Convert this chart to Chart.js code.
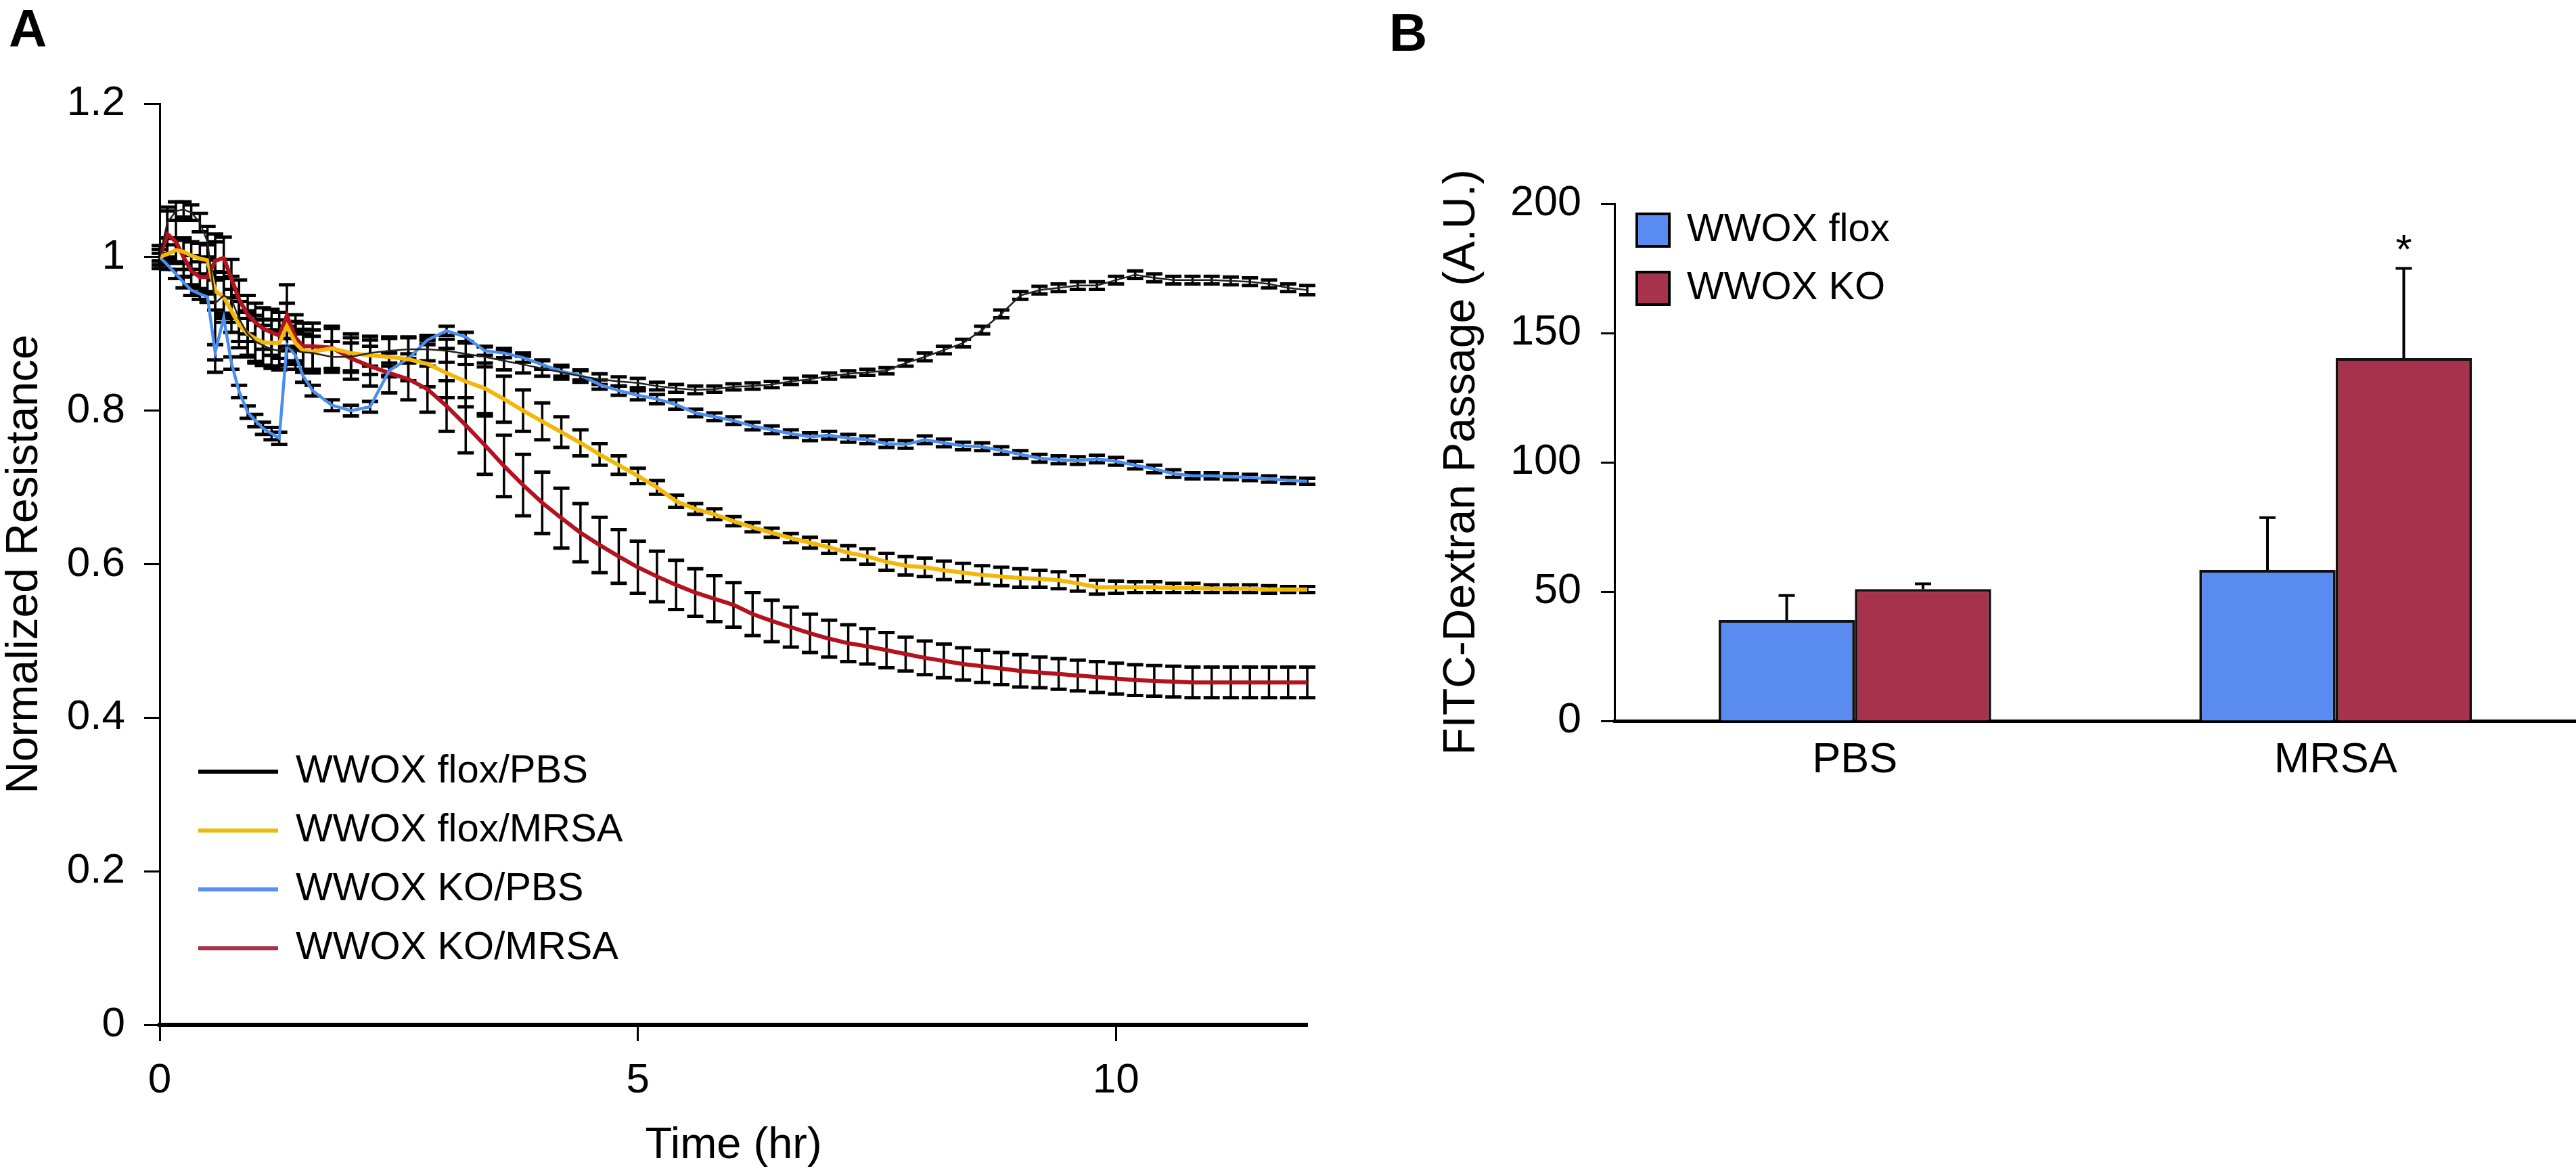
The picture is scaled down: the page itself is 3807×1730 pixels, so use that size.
<!DOCTYPE html>
<html>
<head>
<meta charset="utf-8">
<script src="https://cdn.jsdelivr.net/npm/chart.js@4.4.1/dist/chart.umd.min.js"></script>
<style>
  html, body { margin: 0; padding: 0; background: #fff; }
  body { width: 3807px; height: 1730px; position: relative; overflow: hidden; }
  .panel { position: absolute; top: 0; height: 1730px; }
  #panelA { left: 0; width: 1990px; }
  #panelB { left: 1990px; width: 1817px; }
  .tag { position: absolute; font: bold 78px "Liberation Sans", Arial, sans-serif; line-height: 78px; color: #000; }
</style>
</head>
<body>
<div class="tag" style="left:13px; top:3px;">A</div>
<div class="tag" style="left:2053px; top:9px;">B</div>
<div class="panel" id="panelA"><canvas id="canvasA"></canvas></div>
<div class="panel" id="panelB"><canvas id="canvasB"></canvas></div>
<script>
// ---- panel A: normalized resistance over time ----
const timeHr = [0, 0.08, 0.17, 0.25, 0.33, 0.42, 0.5, 0.58, 0.67, 0.75, 0.83, 0.92, 1.0, 1.08, 1.17, 1.25, 1.33, 1.42, 1.5,
  1.6, 1.8, 2.0, 2.2, 2.4, 2.6, 2.8, 3.0, 3.2, 3.4,
  3.6, 3.8, 4.0, 4.2, 4.4, 4.6, 4.8, 5.0, 5.2, 5.4,
  5.6, 5.8, 6.0, 6.2, 6.4, 6.6, 6.8, 7.0, 7.2, 7.4,
  7.6, 7.8, 8.0, 8.2, 8.4, 8.6, 8.8, 9.0, 9.2, 9.4,
  9.6, 9.8, 10.0, 10.2, 10.4, 10.6, 10.8, 11.0, 11.2, 11.4,
  11.6, 11.8, 12.0];

const floxPbsMean = [1.0, 1.045, 1.06, 1.062, 1.058, 1.045, 1.02, 0.94, 0.95, 0.945, 0.92, 0.9, 0.89, 0.885, 0.88, 0.878, 0.885, 0.878, 0.876,
  0.875, 0.87, 0.87, 0.875, 0.878, 0.88, 0.88, 0.878, 0.874, 0.87,
  0.865, 0.86, 0.855, 0.85, 0.845, 0.841, 0.838, 0.836, 0.832, 0.829,
  0.827, 0.828, 0.831, 0.832, 0.834, 0.838, 0.841, 0.845, 0.848, 0.85,
  0.852, 0.862, 0.87, 0.879, 0.888, 0.905, 0.926, 0.95, 0.957, 0.96,
  0.963, 0.963, 0.97, 0.977, 0.973, 0.97, 0.97, 0.97, 0.969, 0.968,
  0.965, 0.96, 0.957];
const floxPbsErr = [0.01, 0.02, 0.012, 0.01, 0.01, 0.012, 0.02, 0.09, 0.03, 0.03, 0.03, 0.028, 0.028, 0.026, 0.025, 0.025, 0.025, 0.024, 0.024,
  0.022, 0.02, 0.018, 0.017, 0.016, 0.016, 0.015, 0.015, 0.014, 0.013,
  0.012, 0.011, 0.01, 0.009, 0.008, 0.007, 0.006, 0.006, 0.005, 0.005,
  0.005, 0.004, 0.004, 0.004, 0.004, 0.004, 0.004, 0.004, 0.004, 0.004,
  0.004, 0.004, 0.005, 0.005, 0.005, 0.005, 0.005, 0.005, 0.005, 0.005,
  0.005, 0.005, 0.005, 0.005, 0.005, 0.005, 0.005, 0.005, 0.005, 0.005,
  0.005, 0.005, 0.006];

const floxMrsaMean = [1.0, 1.004, 1.009, 1.007, 1.002, 0.998, 0.996, 0.956, 0.948, 0.93, 0.912, 0.9, 0.894, 0.889, 0.888, 0.888, 0.91, 0.888, 0.878,
  0.877, 0.881, 0.875, 0.872, 0.87, 0.867, 0.861, 0.849, 0.838, 0.829,
  0.815, 0.8, 0.786, 0.772, 0.758, 0.743, 0.729, 0.715, 0.7, 0.682,
  0.672, 0.665, 0.656, 0.648, 0.641, 0.634, 0.628, 0.622, 0.615, 0.61,
  0.603, 0.598, 0.596, 0.592, 0.589, 0.586, 0.584, 0.582, 0.581, 0.579,
  0.575, 0.57, 0.57, 0.57, 0.57, 0.569, 0.569, 0.568, 0.568, 0.568,
  0.567, 0.567, 0.567];
const floxMrsaErr = [0.01, 0.012, 0.015, 0.015, 0.018, 0.02, 0.02, 0.025, 0.025, 0.028, 0.03, 0.03, 0.03, 0.03, 0.03, 0.03, 0.03, 0.028, 0.028,
  0.028, 0.026, 0.025, 0.025, 0.026, 0.028, 0.03, 0.032, 0.033, 0.033,
  0.03, 0.027, 0.024, 0.02, 0.017, 0.014, 0.012, 0.01, 0.009, 0.008,
  0.007, 0.007, 0.006, 0.006, 0.006, 0.006, 0.007, 0.008, 0.009, 0.01,
  0.011, 0.012, 0.012, 0.012, 0.012, 0.012, 0.012, 0.012, 0.011, 0.011,
  0.01, 0.009, 0.008, 0.007, 0.007, 0.006, 0.006, 0.005, 0.005, 0.005,
  0.005, 0.004, 0.004];

const koPbsMean = [1.0, 0.99, 0.978, 0.967, 0.957, 0.952, 0.948, 0.876, 0.921, 0.862, 0.825, 0.798, 0.787, 0.777, 0.77, 0.764, 0.886, 0.872, 0.845,
  0.826, 0.807, 0.8, 0.805, 0.852, 0.868, 0.892, 0.904, 0.896, 0.878,
  0.875, 0.869, 0.86, 0.851, 0.846, 0.834, 0.826, 0.82, 0.815, 0.808,
  0.797, 0.792, 0.787, 0.78, 0.775, 0.77, 0.766, 0.768, 0.764, 0.762,
  0.757, 0.756, 0.762, 0.758, 0.754, 0.753, 0.748, 0.743, 0.738, 0.736,
  0.735, 0.737, 0.734, 0.729, 0.724, 0.718, 0.715, 0.715, 0.714, 0.713,
  0.711, 0.709, 0.708];
const koPbsErr = [0.005, 0.006, 0.006, 0.007, 0.007, 0.007, 0.007, 0.01, 0.006, 0.008, 0.008, 0.008, 0.008, 0.008, 0.008, 0.008, 0.008, 0.008, 0.008,
  0.007, 0.007, 0.007, 0.007, 0.006, 0.006, 0.006, 0.006, 0.006, 0.006,
  0.006, 0.006, 0.006, 0.006, 0.006, 0.006, 0.006, 0.006, 0.006, 0.006,
  0.005, 0.005, 0.005, 0.005, 0.005, 0.005, 0.005, 0.005, 0.005, 0.005,
  0.005, 0.005, 0.005, 0.005, 0.005, 0.005, 0.005, 0.005, 0.005, 0.005,
  0.005, 0.005, 0.005, 0.005, 0.005, 0.005, 0.004, 0.004, 0.004, 0.004,
  0.004, 0.004, 0.004];

const koMrsaMean = [1.0, 1.03, 1.02, 1.0, 0.982, 0.974, 0.974, 0.995, 0.999, 0.972, 0.945, 0.925, 0.915, 0.907, 0.902, 0.898, 0.924, 0.895, 0.884,
  0.884, 0.882, 0.868, 0.858, 0.849, 0.841, 0.828, 0.806, 0.781, 0.755,
  0.728, 0.703, 0.68, 0.66, 0.641, 0.625, 0.61, 0.596, 0.584, 0.573,
  0.563, 0.555, 0.547, 0.535, 0.526, 0.518, 0.51, 0.503, 0.497, 0.493,
  0.488, 0.483, 0.478, 0.474, 0.47, 0.467, 0.464, 0.461, 0.459, 0.457,
  0.455, 0.453, 0.451, 0.449, 0.448, 0.447, 0.446, 0.446, 0.446, 0.446,
  0.446, 0.446, 0.446];
const koMrsaErr = [0.015, 0.03, 0.028, 0.025, 0.02, 0.02, 0.022, 0.025, 0.027, 0.025, 0.025, 0.025, 0.025, 0.027, 0.03, 0.03, 0.04, 0.03, 0.03,
  0.03, 0.028, 0.027, 0.026, 0.026, 0.027, 0.03, 0.033, 0.036, 0.038,
  0.04, 0.04, 0.04, 0.039, 0.038, 0.036, 0.035, 0.034, 0.033, 0.032,
  0.031, 0.03, 0.029, 0.028, 0.027, 0.026, 0.025, 0.024, 0.024, 0.023,
  0.023, 0.022, 0.022, 0.022, 0.021, 0.021, 0.021, 0.021, 0.02, 0.02,
  0.02, 0.02, 0.02, 0.02, 0.02, 0.02, 0.02, 0.02, 0.02, 0.02,
  0.02, 0.02, 0.02];

const seriesNamesA = ['WWOX flox/PBS', 'WWOX flox/MRSA', 'WWOX KO/PBS', 'WWOX KO/MRSA'];
const xTicksA = [0, 5, 10];
const yTicksA = [0, 0.2, 0.4, 0.6, 0.8, 1.0, 1.2];
const yTickLabelsA = ['0', '0.2', '0.4', '0.6', '0.8', '1', '1.2'];

// ---- panel B: FITC-dextran passage ----
const categoriesB = ['PBS', 'MRSA'];
const seriesNamesB = ['WWOX flox', 'WWOX KO'];
const floxFitc = [39, 58.4];
const floxFitcErr = [9.5, 20.2];
const koFitc = [51, 140.3];
const koFitcErr = [2, 34.7];
const koSigMarks = ['', '*'];
const yTicksB = [0, 50, 100, 150, 200];

const FONT = '"Liberation Sans", Arial, Helvetica, sans-serif';
Chart.defaults.font.family = FONT;
Chart.defaults.color = '#000';

const lineStyles = [
    { color: '#222222', width: 2.5, legend: '#000000' },
    { color: '#f1b80a', width: 6, legend: '#e9b90f' },
    { color: '#4a8ef0', width: 4.5, legend: '#5b8ff0' },
    { color: '#b3131e', width: 6, legend: '#a83245' }
];
const meansA = [floxPbsMean, floxMrsaMean, koPbsMean, koMrsaMean];
const errsA = [floxPbsErr, floxMrsaErr, koPbsErr, koMrsaErr];

// error bars under the lines, one per point
const errorBarsA = {
    id: 'errorBarsA',
    beforeDatasetsDraw(chart) {
        const { ctx, scales: { x, y } } = chart;
        ctx.save();
        ctx.strokeStyle = '#000';
        meansA.forEach((mean, s) => {
            mean.forEach((v, i) => {
                const px = x.getPixelForValue(timeHr[i]);
                const yHi = y.getPixelForValue(v + errsA[s][i]);
                const yLo = y.getPixelForValue(v - errsA[s][i]);
                ctx.lineWidth = 3.5;
                ctx.beginPath();
                ctx.moveTo(px, yHi); ctx.lineTo(px, yLo);
                ctx.stroke();
                ctx.lineWidth = 5;
                ctx.beginPath();
                ctx.moveTo(px - 12, yHi); ctx.lineTo(px + 12, yHi);
                ctx.moveTo(px - 12, yLo); ctx.lineTo(px + 12, yLo);
                ctx.stroke();
            });
        });
        ctx.restore();
    }
};

const legendA = {
    id: 'legendA',
    afterDraw(chart) {
        const { ctx, chartArea } = chart;
        ctx.save();
        ctx.font = '58px ' + FONT;
        ctx.textBaseline = 'middle';
        ctx.fillStyle = '#000';
        seriesNamesA.forEach((name, i) => {
            const y = 1140 + i * 87;
            ctx.strokeStyle = lineStyles[i].legend;
            ctx.lineWidth = 6;
            ctx.beginPath();
            ctx.moveTo(chartArea.left + 57, y);
            ctx.lineTo(chartArea.left + 175, y);
            ctx.stroke();
            ctx.fillText(name, chartArea.left + 201, y);
        });
        ctx.restore();
    }
};

new Chart(document.getElementById('canvasA'), {
    type: 'line',
    data: {
        datasets: meansA.map((mean, s) => ({
            label: seriesNamesA[s],
            data: mean.map((v, i) => ({ x: timeHr[i], y: v })),
            borderColor: lineStyles[s].color,
            borderWidth: lineStyles[s].width,
            pointRadius: 0,
            tension: 0,
            fill: false
        }))
    },
    options: {
        responsive: true,
        maintainAspectRatio: false,
        animation: false,
        layout: { padding: { left: 0, top: 153, right: 58, bottom: 0 } },
        plugins: { legend: { display: false }, tooltip: { enabled: false } },
        scales: {
            x: {
                type: 'linear', min: 0, max: 12,
                afterFit: s => { s.height = 216; },
                afterBuildTicks: s => { s.ticks = xTicksA.map(v => ({ value: v })); },
                grid: { drawOnChartArea: false, drawTicks: true, tickLength: 24, tickWidth: 3, tickColor: '#000' },
                border: { display: true, color: '#000', width: 6 },
                ticks: { padding: 28, font: { size: 62, lineHeight: 1 }, color: '#000', maxRotation: 0, autoSkip: false },
                title: { display: true, text: 'Time (hr)', color: '#000', font: { size: 65, lineHeight: 1 }, padding: { top: 0, bottom: 4 } }
            },
            y: {
                min: 0, max: 1.2,
                afterFit: s => { s.width = 236; },
                afterBuildTicks: s => { s.ticks = yTicksA.map(v => ({ value: v })); },
                grid: { drawOnChartArea: false, drawTicks: true, tickLength: 23, tickWidth: 3, tickColor: '#000' },
                border: { display: true, color: '#000', width: 3 },
                ticks: { padding: 28, font: { size: 62, lineHeight: 1 }, color: '#000', callback: (v, i) => yTickLabelsA[i] },
                title: { display: true, text: 'Normalized Resistance', color: '#000', font: { size: 66, lineHeight: 1 }, padding: { top: 4, bottom: 0 } }
            }
        }
    },
    plugins: [errorBarsA, legendA]
});

// ---- panel B ----
const errsB = [floxFitcErr, koFitcErr];
const barColors = ['#5a8bf0', '#a6334b'];

const errorBarsB = {
    id: 'errorBarsB',
    afterDatasetsDraw(chart) {
        const { ctx, scales: { y } } = chart;
        ctx.save();
        ctx.strokeStyle = '#000';
        ctx.lineWidth = 4;
        chart.data.datasets.forEach((ds, d) => {
            chart.getDatasetMeta(d).data.forEach((bar, i) => {
                const top = y.getPixelForValue(ds.data[i] + errsB[d][i]);
                ctx.beginPath();
                ctx.moveTo(bar.x, bar.y); ctx.lineTo(bar.x, top);
                ctx.moveTo(bar.x - 12, top); ctx.lineTo(bar.x + 12, top);
                ctx.stroke();
                if (d === 1 && koSigMarks[i]) {
                    ctx.fillStyle = '#000';
                    ctx.font = '62px ' + FONT;
                    ctx.textAlign = 'center';
                    ctx.textBaseline = 'alphabetic';
                    ctx.fillText(koSigMarks[i], bar.x, top - 8);
                }
            });
        });
        ctx.restore();
    }
};

const legendB = {
    id: 'legendB',
    afterDraw(chart) {
        const { ctx, chartArea } = chart;
        ctx.save();
        ctx.font = '58px ' + FONT;
        ctx.textBaseline = 'middle';
        seriesNamesB.forEach((name, i) => {
            const y = 340 + i * 86;
            ctx.fillStyle = barColors[i];
            ctx.fillRect(chartArea.left + 33, y - 24, 48, 48);
            ctx.strokeStyle = '#000';
            ctx.lineWidth = 4;
            ctx.strokeRect(chartArea.left + 33, y - 24, 48, 48);
            ctx.fillStyle = '#000';
            ctx.fillText(name, chartArea.left + 107, y);
        });
        ctx.restore();
    }
};

new Chart(document.getElementById('canvasB'), {
    type: 'bar',
    data: {
        labels: categoriesB,
        datasets: [
            { label: seriesNamesB[0], data: floxFitc, backgroundColor: barColors[0], borderColor: '#111', borderWidth: 4 },
            { label: seriesNamesB[1], data: koFitc, backgroundColor: barColors[1], borderColor: '#111', borderWidth: 4 }
        ]
    },
    options: {
        responsive: true,
        maintainAspectRatio: false,
        animation: false,
        layout: { padding: { left: 0, top: 301, right: 0, bottom: 545 } },
        datasets: { bar: { categoryPercentage: 0.567, barPercentage: 1.0 } },
        plugins: { legend: { display: false }, tooltip: { enabled: false } },
        scales: {
            x: {
                afterFit: s => { s.height = 120; },
                grid: { display: true, drawOnChartArea: false, drawTicks: false },
                border: { display: true, color: '#000', width: 5 },
                ticks: { padding: 27, font: { size: 63, lineHeight: 1 }, color: '#000' }
            },
            y: {
                min: 0, max: 200,
                afterFit: s => { s.width = 396; },
                afterBuildTicks: s => { s.ticks = yTicksB.map(v => ({ value: v })); },
                grid: { drawOnChartArea: false, drawTicks: true, tickLength: 20, tickWidth: 3, tickColor: '#000' },
                border: { display: true, color: '#000', width: 3 },
                ticks: { padding: 29, font: { size: 63, lineHeight: 1 }, color: '#000' },
                title: { display: true, text: 'FITC-Dextran Passage (A.U.)', color: '#000', font: { size: 66, lineHeight: 1 }, padding: { top: 138, bottom: 0 } }
            }
        }
    },
    plugins: [errorBarsB, legendB]
});
</script>
</body>
</html>
